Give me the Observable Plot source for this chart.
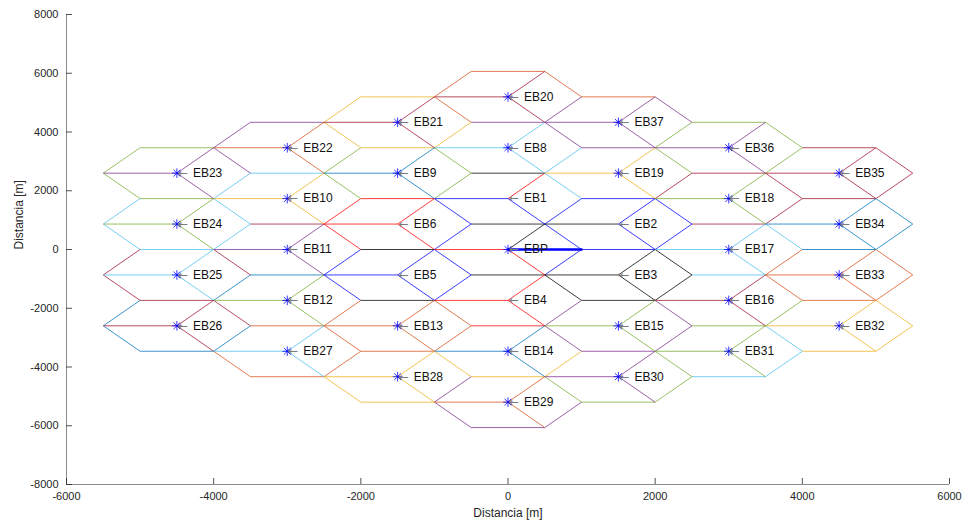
<!DOCTYPE html>
<html>
<head>
<meta charset="utf-8">
<script src="https://cdn.jsdelivr.net/npm/d3@7"></script>
<script src="https://cdn.jsdelivr.net/npm/@observablehq/plot@0.6"></script>
<style>
  html, body { margin: 0; padding: 0; background: #ffffff; }
  #grafico { width: 968px; height: 529px; }
</style>
</head>
<body>
<div id="grafico"></div>
<script>
// Estaciones base: nombre y posición del centro de cada celda (m)
const estaciones = ["EBP","EB1","EB2","EB3","EB4","EB5","EB6",
  "EB8","EB9","EB10","EB11","EB12","EB13","EB14","EB15","EB16","EB17","EB18","EB19",
  "EB20","EB21","EB22","EB23","EB24","EB25","EB26","EB27","EB28","EB29",
  "EB30","EB31","EB32","EB33","EB34","EB35","EB36","EB37"];
const posX = [0, 0, 1500, 1500, 0, -1500, -1500,
  0, -1500, -3000, -3000, -3000, -1500, 0, 1500, 3000, 3000, 3000, 1500,
  0, -1500, -3000, -4500, -4500, -4500, -4500, -3000, -1500, 0,
  1500, 3000, 4500, 4500, 4500, 4500, 3000, 1500];
const posY = [0, 1732, 866, -866, -1732, -866, 866,
  3464, 2598, 1732, 0, -1732, -2598, -3464, -2598, -1732, 0, 1732, 2598,
  5196, 4330, 3464, 2598, 866, -866, -2598, -3464, -4330, -5196,
  -4330, -3464, -2598, -866, 866, 2598, 3464, 4330];

// Color de los seis lados de cada celda, empezando en el vértice de 0°
// y recorriendo en sentido antihorario
const coloresLados = ["bkbbkb","6k5bkb","bbbbbb","kbbkkk","kkb2r4","bkbbkb","brrrkb",
  "4435k6","5355r5","56667r","r7671b","b11722","2k2222","4r2333","4k4444","26k455","67bk62","777b77","5466b7",
  "222242","233333","344465","455556","656666","767771","771111","221222","322334","534444",
  "543555","654566","325633","212222","177611","775777","555575","424445"];
// Color de los tres radios de sector (60°, 180°, 300°)
const coloresRadios = ["krr","rbb","bkb","kkk","rrr","bbb","rrr",
  "666","111","333","444","555","222","111","555","777","666","555","333",
  "777","777","222","444","555","666","777","666","333","222",
  "444","555","333","222","111","777","444","444"];
// Estaciones marcadas con asterisco
const conMarcador = ["EBP","EB8","EB9","EB10","EB11","EB12","EB13","EB14","EB15","EB16","EB17","EB18","EB19",
  "EB20","EB21","EB22","EB23","EB24","EB25","EB26","EB27","EB28","EB29",
  "EB30","EB31","EB32","EB33","EB34","EB35","EB36","EB37"];
// Enlace resaltado desde la estación principal
const enlaceX = [0, 1000];
const enlaceY = [0, 0];

const radioCelda = 1000;
const ticksX = [-6000, -4000, -2000, 0, 2000, 4000, 6000];
const ticksY = [-8000, -6000, -4000, -2000, 0, 2000, 4000, 6000, 8000];

// Colores: orden por defecto de MATLAB y colores básicos
const paleta = {
  "1": "#0072BD", "2": "#D95319", "3": "#EDB120", "4": "#7E2F8E",
  "5": "#77AC30", "6": "#4DBEEE", "7": "#A2142F",
  "b": "#0000FF", "r": "#FF0000", "k": "#000000"
};

const sitios = estaciones.map((nombre, i) => ({nombre, x: posX[i], y: posY[i]}));

// Segmentos: lados del hexágono y radios de sector de cada celda.
// Un lado compartido por dos celdas se traza una sola vez.
const lados = new Map();
const radios = [];
const clave = (a, b) => [a, b].map(p => p.map(Math.round).join(":")).sort().join("|");
sitios.forEach((s, i) => {
  const v = d3.range(6).map(k => [s.x + radioCelda * Math.cos(k * Math.PI / 3),
                                 s.y + radioCelda * Math.sin(k * Math.PI / 3)]);
  for (let k = 0; k < 6; k++) {
    const a = v[k], b = v[(k + 1) % 6];
    lados.set(clave(a, b), {x1: a[0], y1: a[1], x2: b[0], y2: b[1], c: coloresLados[i][k]});
  }
  [1, 3, 5].forEach((k, j) => {
    radios.push({x1: s.x, y1: s.y, x2: v[k][0], y2: v[k][1], c: coloresRadios[i][j]});
  });
});
const segmentos = [...lados.values(), ...radios];

const enlace = enlaceX.map((x, i) => ({x, y: enlaceY[i]}));
const marcados = sitios.filter(s => conMarcador.includes(s.nombre));

// Asterisco al estilo MATLAB: cruz más aspa
const asterisco = {
  draw(context, size) {
    const r = Math.sqrt(size / Math.PI);
    const d = r * Math.SQRT1_2;
    context.moveTo(-r, 0); context.lineTo(r, 0);
    context.moveTo(0, -r); context.lineTo(0, r);
    context.moveTo(-d, -d); context.lineTo(d, d);
    context.moveTo(-d, d); context.lineTo(d, -d);
  }
};

const ejeColor = "#8a8a8a";
const textoColor = "#262626";

const grafico = Plot.plot({
  width: 968,
  height: 529,
  marginLeft: 66,
  marginRight: 19,
  marginTop: 14,
  marginBottom: 45,
  x: {domain: [-6000, 6000]},
  y: {domain: [-8000, 8000]},
  color: {type: "categorical", domain: Object.keys(paleta), range: Object.values(paleta)},
  style: {fontFamily: "'Liberation Sans', Arial, Helvetica, sans-serif", fontSize: "11px", color: textoColor, background: "#ffffff"},
  marks: [
    Plot.link(segmentos, {x1: "x1", y1: "y1", x2: "x2", y2: "y2", stroke: "c", strokeWidth: 0.9, strokeOpacity: 0.85}),
    Plot.line(enlace, {x: "x", y: "y", stroke: "#0000FF", strokeWidth: 2.6}),
    Plot.dot(marcados, {x: "x", y: "y", symbol: asterisco, r: 4.8, fill: "none", stroke: "#0000FF", strokeWidth: 0.8}),
    Plot.text(sitios, {x: "x", y: "y", text: () => "\u2190", dx: 1, textAnchor: "start", fill: "#7a7a7a", fontSize: 12, fontFamily: "'DejaVu Sans', sans-serif"}),
    Plot.text(sitios, {x: "x", y: "y", text: "nombre", dx: 16, textAnchor: "start", fill: "#111111", fontSize: 12}),
    // Ejes
    Plot.ruleX([-6000], {y1: -8000, y2: 8000, stroke: ejeColor, strokeWidth: 1}),
    Plot.ruleY([-8000], {x1: -6000, x2: 6000, stroke: ejeColor, strokeWidth: 1}),
    Plot.ruleX(ticksX, {x: d => d, y1: -8000, y2: -8000, insetBottom: 6, stroke: textoColor, strokeWidth: 0.8}),
    Plot.ruleY(ticksY, {y: d => d, x1: -6000, x2: -6000, insetRight: -6, stroke: textoColor, strokeWidth: 0.8}),
    Plot.axisX(ticksX, {anchor: "bottom", tickSize: 0, tickPadding: 8, tickFormat: d => String(d), label: null, fill: textoColor}),
    Plot.axisY(ticksY, {anchor: "left", tickSize: 0, tickPadding: 8, tickFormat: d => String(d), label: null, fill: textoColor}),
    Plot.text(["Distancia [m]"], {frameAnchor: "bottom", dy: 32, fontSize: 12, fill: textoColor}),
    Plot.text(["Distancia [m]"], {frameAnchor: "left", dx: -47, rotate: -90, fontSize: 12, fill: textoColor})
  ]
});

document.getElementById("grafico").appendChild(grafico);
</script>
</body>
</html>
